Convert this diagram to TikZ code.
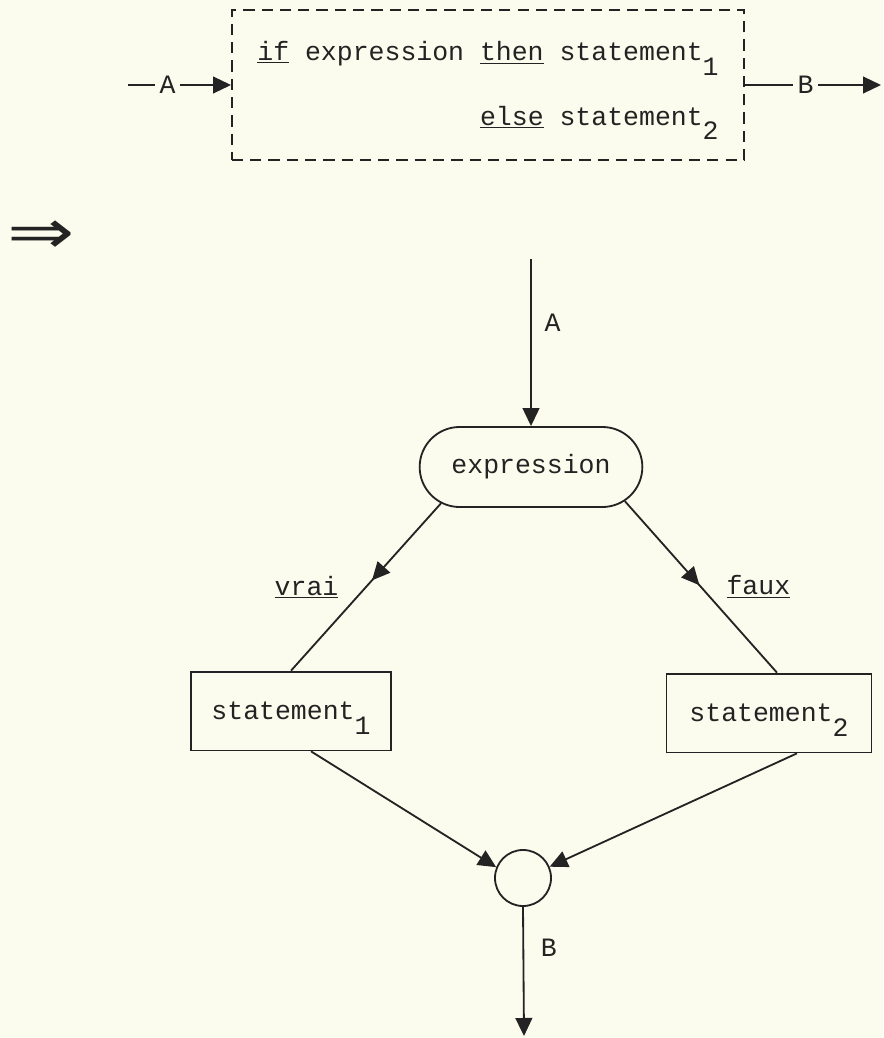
\documentclass[tikz,border=0pt]{standalone}
\usepackage{fontspec}
\setmonofont{Liberation Mono}
\newfontfamily\arrowfont{DejaVu Sans}
\usetikzlibrary{
  arrows.meta,
  shapes.misc,
  positioning,
  decorations.markings
}
\definecolor{paper_cream}{RGB}{252,252,238}
\definecolor{ink_dark}{RGB}{35,35,35}
\newcommand{\subidx}[1]{\raisebox{-0.55em}[0pt][0pt]{#1}}

\begin{document}
\begin{tikzpicture}[
    x=0.025cm, y=-0.025cm,
    font=\fontsize{18.85}{46}\selectfont\ttfamily,
    color=ink_dark,
    >={Triangle[length=0.45cm, width=0.42cm]},
    line width=1.3pt,
    % Styles
    flow_line/.style={->},
    mid_flow/.style={postaction={decorate},
        decoration={markings, mark=at position #1 with {\arrow{>}}}},
    frame_box/.style={
        rectangle, draw, dash pattern=on 8pt off 5pt, minimum width=12.8cm, minimum height=3.75cm, align=right
    },
    test_node/.style={
        rounded rectangle, draw, minimum width=5.8cm, minimum height=2cm
    },
    stmt_box/.style={
        rectangle, draw, minimum width=5cm, minimum height=1.97cm
    },
    join_node/.style={
        circle, draw, minimum size=1.4cm, inner sep=0pt
    },
    gap_label/.style={fill=paper_cream}
]

\path[use as bounding box, fill=paper_cream] (0,0) rectangle (883,1038);

% 1. Source form (dashed frame)
\node[frame_box] (ifbox) at (488,85) {
    \underline{if} expression \underline{then} statement\subidx{1}\\
    \underline{else} statement\subidx{2}
};
\coordinate (a_in) at (128,85);
\coordinate (b_out) at (881,85);

% 2. Translation sign
\node[font=\fontsize{44}{48}\arrowfont, inner sep=0pt] (implies) at (41,237) {\scalebox{1.3}[1]{⇒}};

% 3. Flow graph
\coordinate (a_top) at (531,259);
\node[test_node] (expr) at (531,467) {expression};
\node[stmt_box] (stmt1) at (291,711) {statement\subidx{1}};
\node[stmt_box, minimum width=5.125cm] (stmt2) at (769,713) {statement\subidx{2}};
\node[join_node] (join) at (523,878) {};
\coordinate (b_bottom) at (524,1036);

% --- Connections ---
\draw[flow_line] (a_in) -- node[pos=0.385, gap_label] {A} (ifbox.west);
\draw[flow_line] (ifbox.east) -- node[pos=0.446, gap_label] {B} (b_out);

\draw[flow_line] (a_top) -- node[pos=0.38, right=0.2cm] {A} (expr.north);

% Branches (arrow half way)
\draw[mid_flow=0.46] (expr.202) -- node[pos=0.5, left=0.55cm] {\underline{vrai}} (stmt1.north);
\draw[mid_flow=0.49] (expr.340) -- node[pos=0.5, right=0.5cm] {\underline{faux}} ([xshift=0.2cm]stmt2.north);

% Merge
\draw[flow_line] ([xshift=0.5cm]stmt1.south) -- (join.158);
\draw[flow_line] ([xshift=0.7cm]stmt2.south) -- (join.23);
\draw[flow_line] (join.south) -- node[pos=0.32, right=0.3cm] {B} (b_bottom);

\end{tikzpicture}
\end{document}
